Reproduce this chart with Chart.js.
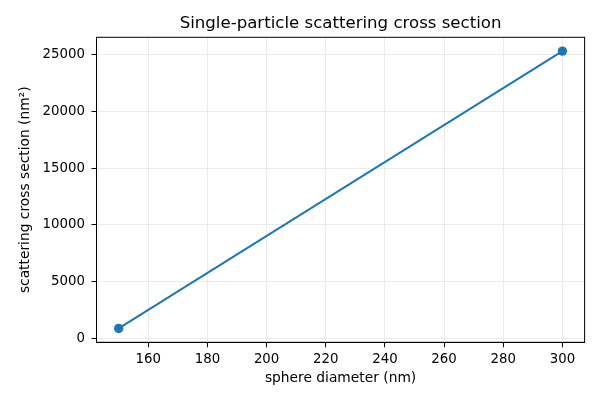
<!DOCTYPE html>
<html>
<head>
<meta charset="utf-8">
<script src="https://cdn.jsdelivr.net/npm/chart.js@4"></script>
<style>
html,body{margin:0;padding:0;background:#fff;}
#wrap{width:600px;height:400px;position:relative;}
</style>
</head>
<body>
<div id="wrap"><canvas id="c" width="600" height="400"></canvas></div>
<script>
const diameters = [150, 300];
const crossSections = [880, 25320];
const xTicks = [160, 180, 200, 220, 240, 260, 280, 300];
const yTicks = [0, 5000, 10000, 15000, 20000, 25000];
const titleText = 'Single-particle scattering cross section';
const xLabel = 'sphere diameter (nm)';
const yLabel = 'scattering cross section (nm\u00B2)';

function padded(arr){
  const mn = Math.min(...arr), mx = Math.max(...arr);
  const m = (mx - mn) * 0.05;
  return [mn - m, mx + m];
}
const [xMin, xMax] = padded(diameters);
const [yMin, yMax] = padded(crossSections);

const font = 'DejaVu Sans';
const frame = {
  id: 'frame',
  afterDraw(chart){
    const a = chart.chartArea, ctx = chart.ctx;
    ctx.save();
    ctx.strokeStyle = '#000';
    ctx.lineWidth = 1;
    ctx.strokeRect(a.left, a.top, a.right - a.left, a.bottom - a.top);
    ctx.fillStyle = '#000';
    ctx.font = '16.6px "' + font + '"';
    ctx.textAlign = 'center';
    ctx.textBaseline = 'middle';
    ctx.fillText(titleText, (a.left + a.right) / 2, 23.5);
    ctx.restore();
  }
};

new Chart(document.getElementById('c'), {
  type: 'scatter',
  data: {
    datasets: [{
      data: diameters.map((d, i) => ({x: d, y: crossSections[i]})),
      showLine: true,
      borderColor: '#1f77b4',
      backgroundColor: '#1f77b4',
      borderWidth: 2,
      pointRadius: 4.7,
      pointHoverRadius: 4.7,
      pointBorderWidth: 0
    }]
  },
  options: {
    responsive: false,
    animation: false,
    devicePixelRatio: 1,
    layout: {padding: {left: 0, right: 15.4, top: 37.3, bottom: 0}},
    plugins: {
      legend: {display: false},
      tooltip: {enabled: false},
      title: {display: false}
    },
    scales: {
      x: {
        type: 'linear',
        min: xMin, max: xMax,
        afterBuildTicks(s){ s.ticks = xTicks.map(v => ({value: v})); },
        afterFit(s){ s.height = 57.7; },
        ticks: {
          color: '#000',
          font: {family: font, size: 13.33}, padding: 4.5,
          maxRotation: 0, autoSkip: false,
          callback: v => String(v)
        },
        grid: {color: '#e6e6e6', lineWidth: 0.8, tickColor: '#000', tickLength: 5, tickWidth: 1},
        border: {display: true, color: '#000', width: 1},
        title: {display: true, text: xLabel, color: '#000', font: {family: font, size: 13.8}, padding: {top: 0, bottom: 13.5}}
      },
      y: {
        type: 'linear',
        min: yMin, max: yMax,
        afterBuildTicks(s){ s.ticks = yTicks.map(v => ({value: v})); },
        afterFit(s){ s.width = 96.5; },
        ticks: {
          color: '#000', autoSkip: false,
          font: {family: font, size: 13.33}, padding: 6.5,
          callback: v => String(v)
        },
        grid: {color: '#e6e6e6', lineWidth: 0.8, tickColor: '#000', tickLength: 5, tickWidth: 1},
        border: {display: true, color: '#000', width: 1},
        title: {display: true, text: yLabel, color: '#000', font: {family: font, size: 13.8}, padding: {top: 17, bottom: 0}}
      }
    }
  },
  plugins: [frame]
});
</script>
</body>
</html>
